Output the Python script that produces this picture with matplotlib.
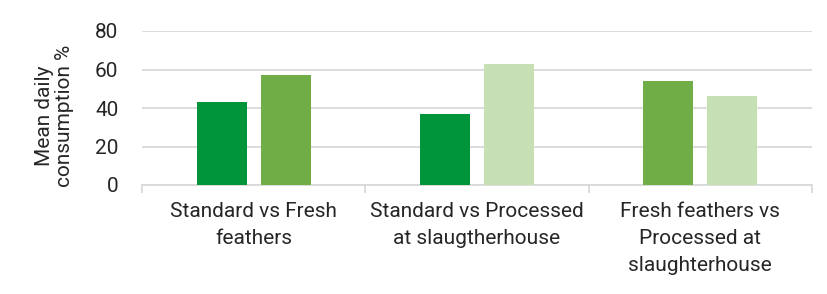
import matplotlib
matplotlib.use("Agg")
import matplotlib.pyplot as plt
import numpy as np

categories = ["Standard vs Fresh\nfeathers",
              "Standard vs Processed\nat slaugtherhouse",
              "Fresh feathers vs\nProcessed at\nslaughterhouse"]
first_vals = [43, 37, 54]
second_vals = [57, 63, 46]
first_kind = ["Standard", "Standard", "Fresh"]
second_kind = ["Fresh", "Processed", "Processed"]
kind_colors = {"Standard": "#00953a", "Fresh": "#70ad47", "Processed": "#c6e0b4"}

plt.rcParams['font.family'] = ['Roboto', 'DejaVu Sans']
text_col = "#262626"
grid_col = "#d9d9d9"
fs = 15

fig = plt.figure(figsize=(8.27, 2.94), dpi=100)
ax = fig.add_axes([142/827, 1-185/294, 670/827, 154/294])

x = np.arange(len(categories))
w = 0.224
off = 0.143
ax.bar(x - off, first_vals, w, color=[kind_colors[k] for k in first_kind], zorder=3)
ax.bar(x + off, second_vals, w, color=[kind_colors[k] for k in second_kind], zorder=3)

ax.set_xlim(-0.5, len(categories) - 0.5)
ax.set_ylim(0, 80)
ax.set_yticks([0, 20, 40, 60, 80])
ax.yaxis.grid(True, color=grid_col, linewidth=1.3, zorder=0)
ax.set_axisbelow(True)

for s in ["top", "right", "left"]:
    ax.spines[s].set_visible(False)
ax.spines["bottom"].set_color(grid_col)
ax.spines["bottom"].set_linewidth(1.3)

ax.set_xticks(x)
ax.set_xticklabels(categories, fontsize=fs, color=text_col, linespacing=1.55, va="top")
ax.tick_params(axis="x", length=0, pad=12)
ax.set_xticks(np.arange(len(categories) + 1) - 0.5, minor=True)
ax.tick_params(axis="x", which="minor", length=6, color=grid_col, width=1.3)
ax.tick_params(axis="y", length=0, labelsize=fs, labelcolor=text_col, pad=17)

ax.set_ylabel("Mean daily\nconsumption %", fontsize=fs, color=text_col, linespacing=1.05)
ax.yaxis.set_label_coords(-0.102, 0.45)

fig.savefig("out.png", dpi=100)
